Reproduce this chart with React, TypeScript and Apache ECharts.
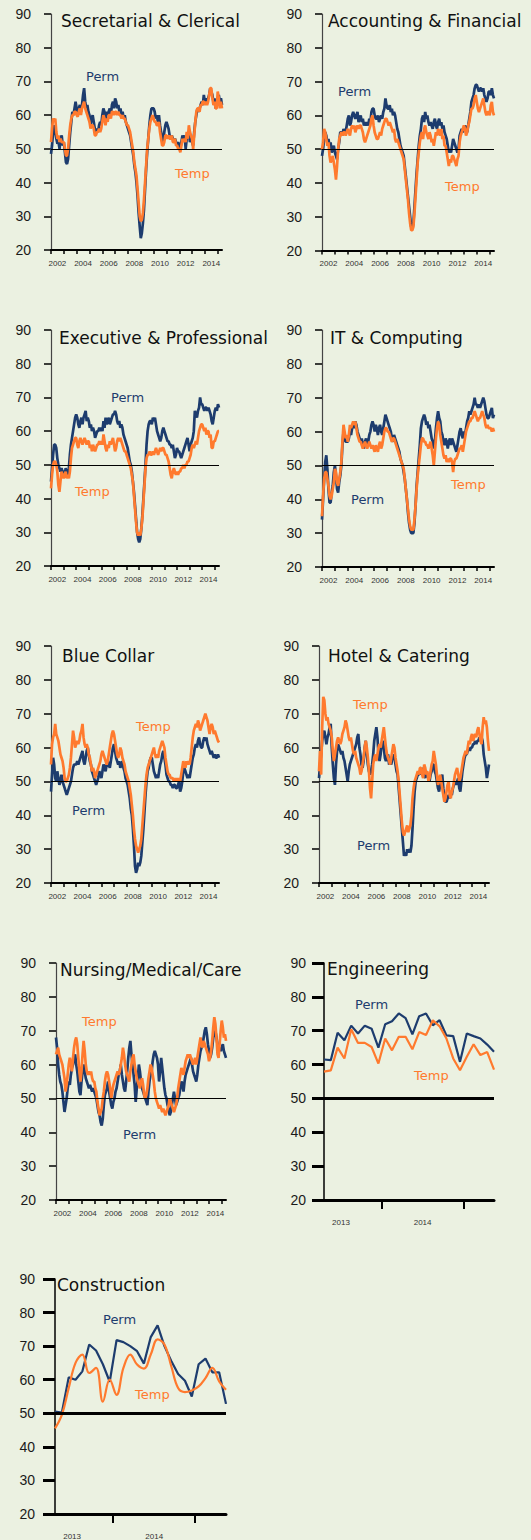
import React, { useEffect, useRef } from "react";
import * as echarts from "echarts";

const BG = "#EBF1E1";
const PERM_COLOR = "#1D3C6E";
const TEMP_COLOR = "#FF7A2E";

// Monthly index values, Jan 2002 - May 2015
const secPerm = [
  48.5, 51, 55, 57, 55, 53, 51.5, 52, 50, 53, 54, 51,
  52, 49, 46, 45.5, 47, 51, 55, 58, 61, 60, 62, 64,
  62, 60, 62, 63, 61, 63, 66, 68, 64, 62, 63, 61,
  60, 57, 59, 60, 58, 56, 55, 56, 55, 57, 58, 57,
  60, 62, 61, 58, 61, 60, 61, 62, 60, 63, 64, 62,
  65, 64, 62, 63, 61, 62, 60, 61, 59, 60, 58, 57,
  56, 55, 54, 52, 50, 48, 45, 43, 40, 36, 31, 27,
  23.5, 25, 28, 32, 38, 44, 49, 53, 57, 60, 62, 62,
  62, 61, 59, 60, 58, 60, 57, 55, 53, 52, 55, 57,
  58, 57, 56, 54, 53, 54, 53, 52, 53, 52, 51, 52,
  51, 50, 52, 54, 53, 54, 50, 53, 54, 55, 52, 53,
  52, 51, 55, 58, 60, 62, 61, 62, 63, 64, 63, 66,
  64, 65, 64, 65, 66, 68, 67, 66, 64, 65, 62, 63,
  65, 66, 64, 65, 63,
];
const secTemp = [
  52, 56, 59, 58, 59, 55, 53, 54, 52, 53, 52, 52,
  52, 50, 48, 48, 50, 54, 57, 59, 60, 60, 61, 61,
  60, 59.5, 61, 62, 60, 62, 63, 64, 62, 61, 60, 59,
  58, 56, 57, 57, 56, 54, 54, 55, 55, 56, 55, 56,
  58, 60, 59, 57, 59, 58, 60, 60, 59, 61, 61, 60,
  61, 61, 60, 61, 60, 60, 59, 60, 59, 59, 58, 57,
  57, 56, 55, 53, 51, 49, 46, 44, 42, 38, 34, 30,
  28.5, 29, 31, 35, 40, 45, 50, 53, 56, 58, 59, 60,
  59, 58, 58, 57, 57, 58, 55, 53, 51, 51, 52, 54,
  54, 53, 54, 53, 53, 54, 52, 52, 53, 51, 51, 50,
  50, 49, 51, 53, 52, 53, 52, 55, 53, 57, 55, 54,
  53, 50, 54, 58, 61, 62, 62, 61, 63, 63, 64, 64,
  63, 64, 63, 64, 66, 68, 68, 65, 63, 64, 62, 62,
  67, 65, 62, 64, 62,
];
const accPerm = [
  48, 50, 53, 55, 54, 52, 53, 51, 52, 49, 50, 51,
  49, 48, 47, 50, 52, 55, 55, 54, 56, 55, 55, 57,
  59, 60, 57, 58, 60, 61, 60, 59, 60, 61, 58, 59,
  60, 58, 59, 57, 58, 57, 58, 57, 59, 58, 61, 62,
  62, 60, 59, 59, 60, 58, 59, 60, 59, 61, 62, 65,
  63, 62, 62, 63, 61, 62, 60, 61, 60, 58, 56, 55,
  53, 51, 50, 49, 48, 45, 42, 39, 36, 33, 30, 27,
  26.5, 28, 33, 38, 43, 47, 51, 54, 56, 59, 60, 58,
  61, 59, 60, 58, 57, 58, 57, 56, 58, 59, 57, 56,
  58, 59, 57, 58, 56, 57, 55, 54, 53, 51, 49, 50,
  49, 51, 53, 52, 51, 50, 49, 50, 54, 55, 56, 55,
  56, 57, 56, 55, 57, 59, 61, 64, 65, 66, 68, 69,
  69, 68, 67, 68, 68, 67, 68, 66, 65, 64, 65, 67,
  67, 66, 68, 66, 65,
];
const accTemp = [
  50, 52, 56, 55, 53, 51, 52, 48, 46, 47, 48, 46,
  44, 41, 45, 50, 53, 54, 55, 54, 55, 55, 54, 55,
  56, 55, 54, 56, 57, 56, 57, 55, 56, 57, 56, 57,
  57, 56, 55, 53, 52, 53, 54, 55, 56, 57, 59, 60,
  57, 55, 54, 53, 53, 54, 55, 54, 56, 57, 58, 59,
  59, 58, 57, 58, 57, 56, 55, 56, 53, 52, 53, 52,
  51, 50, 49, 48, 47, 44, 41, 38, 35, 31, 28, 26,
  26, 27, 31, 36, 41, 46, 49, 52, 54, 55, 53, 56,
  57, 55, 54, 53, 55, 54, 52, 53, 51, 53, 55, 54,
  56, 55, 54, 56, 53, 54, 51, 51, 49, 47, 45, 47,
  46, 48, 48, 47, 46, 45, 47, 48, 52, 54, 55, 56,
  57, 56, 54, 55, 57, 58, 60, 62, 62, 63, 65, 66,
  64, 62, 61, 62, 63, 64, 65, 63, 61, 60, 61, 61,
  60, 63, 64, 61, 60,
];
const exePerm = [
  45, 49, 53, 56, 56, 55, 52, 50, 49, 48, 49, 48,
  48, 47, 49, 48, 47, 49, 53, 56, 58, 60, 62, 64,
  65, 64, 62, 61, 63, 64, 62, 64, 65, 66, 63, 64,
  63, 61, 62, 60, 61, 60, 58, 59, 60, 60, 61, 60,
  61, 60, 63, 61, 64, 62, 63, 64, 62, 63, 64, 65,
  65, 66, 65, 63, 62, 63, 61, 62, 61, 59, 58, 57,
  56, 55, 53, 51, 50, 48, 45, 42, 38, 34, 30, 28,
  27, 28, 31, 35, 40, 45, 50, 56, 60, 62, 63, 63,
  62, 64, 63, 64, 62, 60, 59, 58, 57, 58, 60, 61,
  60, 59, 58, 57, 57, 56, 56, 55, 56, 54, 52, 53,
  55, 54, 54, 53, 52, 53, 54, 55, 56, 57, 58, 56,
  54, 56, 57, 58, 60, 66, 65, 64, 66, 67, 70, 68,
  68, 67, 66, 67, 67, 66, 67, 66, 65, 63, 62, 64,
  66, 67, 66, 68, 67,
];
const exeTemp = [
  43, 47, 50, 51, 51, 50, 48, 44, 42, 45, 48, 47,
  46, 47, 48, 46, 47, 46, 48, 52, 55, 56, 57, 58,
  58, 56, 55, 57, 58, 57, 56, 57, 58, 57, 56, 57,
  57, 55, 56, 54, 56, 55, 54, 55, 56, 56, 57, 56,
  57, 56, 59, 57, 55, 54, 56, 55, 57, 56, 57, 58,
  56, 54, 55, 57, 58, 57, 58, 57, 56, 55, 54, 54,
  53, 52, 51, 50, 49, 47, 45, 41, 37, 33, 30, 29,
  30, 29, 31, 34, 39, 44, 49, 52, 53, 53, 54, 53,
  53, 54, 53, 54, 55, 54, 53, 54, 55, 54, 55, 55,
  54, 53, 53, 52, 51, 49, 47, 46, 48, 49, 48, 47,
  48, 47, 48, 48, 49, 49, 50, 49, 50, 50, 51, 51,
  52, 53, 55, 56, 55, 56, 57, 56, 58, 60, 61, 62,
  62, 61, 60, 61, 59, 60, 60, 58, 59, 55, 55, 57,
  57, 58, 59, 60, 60,
];
const itPerm = [
  34, 40, 46, 51, 53, 49, 43, 39, 39, 42, 44, 48,
  50, 47, 43, 42, 45, 47, 50, 56, 60, 58, 57, 57,
  57, 58, 60, 59, 61, 62, 61, 63, 62, 60, 59, 58,
  57, 58, 56, 55, 57, 58, 56, 57, 59, 60, 62, 63,
  62, 60, 62, 61, 59, 61, 62, 60, 59, 61, 63, 65,
  64, 63, 62, 61, 60, 58, 57, 59, 58, 57, 56, 55,
  54, 52, 51, 50, 48, 46, 43, 40, 36, 33, 31, 30,
  30, 30, 33, 38, 44, 48, 52, 56, 61, 63, 64, 65,
  64, 62, 63, 61, 62, 60, 58, 57, 55, 57, 61, 64,
  66, 64, 63, 60, 59, 57, 56, 58, 57, 55, 57, 58,
  56, 58, 57, 56, 55, 54, 56, 58, 60, 61, 59, 58,
  60, 59, 61, 63, 64, 66, 65, 66, 67, 68, 70, 68,
  68, 67, 68, 67, 68, 69, 70, 69, 67, 65, 64, 64,
  65, 66, 67, 64, 65,
];
const itTemp = [
  35, 41, 46, 48, 48, 46, 44, 41, 40, 41, 43, 45,
  49, 48, 45, 44, 46, 48, 51, 57, 62, 60, 58, 59,
  57, 59, 62, 61, 62, 63, 62, 63, 61, 59, 58, 57,
  57, 56, 55, 56, 57, 56, 55, 56, 57, 56, 55, 56,
  55, 54, 56, 55, 54, 56, 57, 55, 56, 58, 60, 61,
  61, 60, 60, 59, 58, 57, 58, 58, 57, 56, 55, 54,
  53, 52, 51, 50, 49, 46, 43, 40, 37, 34, 32, 31,
  31, 31, 34, 38, 43, 47, 50, 53, 56, 58, 58, 57,
  57, 56, 56, 55, 56, 57, 55, 53, 50, 54, 58, 61,
  63, 62, 59, 57, 55, 53, 52, 53, 51, 52, 51, 52,
  52, 51, 48, 51, 52, 52, 53, 54, 55, 55, 56, 54,
  56, 58, 60, 61, 62, 63, 63, 64, 64, 65, 66, 65,
  64, 63, 64, 64, 65, 66, 65, 64, 62, 61, 62, 61,
  61, 61, 60, 61, 60,
];
const bluPerm = [
  47, 52, 57, 55, 51, 50, 53, 51, 49, 50, 52, 50,
  49, 48, 47, 46, 47, 48, 49, 50, 52, 54, 55, 55,
  55, 56, 55, 56, 57, 58, 59, 56, 55, 57, 59, 60,
  58, 56, 55, 53, 52, 51, 50, 49, 50, 51, 53, 52,
  51, 53, 55, 54, 53, 55, 56, 55, 54, 56, 58, 60,
  61, 59, 57, 56, 55, 56, 54, 55, 56, 54, 53, 51,
  50, 49, 47, 45, 42, 40, 36, 31, 25, 23, 24, 26,
  25, 26, 28, 32, 36, 41, 46, 50, 53, 54, 56, 57,
  57, 55, 53, 52, 51, 52, 51, 53, 55, 56, 58, 59,
  57, 55, 52, 51, 50, 50, 49, 49, 48, 49, 49, 48,
  48, 49, 50, 47, 48, 50, 53, 54, 53, 52, 51, 52,
  51, 53, 55, 57, 58, 60, 61, 60, 62, 63, 61, 60,
  60, 62, 63, 62, 63, 61, 60, 59, 58, 59, 58, 57,
  58, 57, 57, 58, 57,
];
const bluTemp = [
  55, 61, 63, 64, 67, 64, 63, 62, 60, 58, 57, 56,
  54, 51, 50, 50, 51, 52, 54, 57, 61, 65, 63, 60,
  61, 62, 61, 62, 64, 65, 67, 63, 61, 60, 61, 60,
  58, 57, 55, 53, 54, 53, 51, 52, 53, 54, 55, 56,
  58, 59, 58, 57, 56, 55, 56, 58, 60, 62, 64, 65,
  64, 62, 60, 58, 57, 58, 60, 59, 57, 56, 55, 53,
  52, 51, 50, 48, 46, 43, 40, 36, 33, 31, 30, 29,
  30, 31, 33, 37, 41, 45, 49, 52, 54, 55, 56, 57,
  58, 59, 60, 58, 57, 58, 57, 59, 60, 61, 62, 61,
  60, 57, 55, 53, 52, 52, 51, 51, 51, 50, 51, 50,
  51, 50, 51, 50, 52, 54, 56, 55, 54, 56, 55, 56,
  55, 57, 60, 63, 65, 66, 67, 66, 68, 67, 65, 66,
  67, 68, 69, 70, 69, 68, 66, 64, 66, 67, 66, 64,
  65, 64, 63, 62, 61.5,
];
const hotPerm = [
  51, 55, 58, 62, 64, 65, 63, 61, 63, 64, 66, 67,
  60, 55, 51, 49, 55, 59, 61, 60, 59, 58, 59, 57,
  56, 54, 52, 50, 53, 55, 56, 57, 58, 59, 60, 61,
  63, 64, 60, 58, 55, 54, 56, 60, 62, 58, 55, 53,
  52, 53, 55, 58, 62, 64, 66, 63, 58, 56, 58, 61,
  62, 60, 57, 56, 57, 58, 55, 56, 55, 57, 58, 57,
  55, 53, 52, 48, 44, 40, 36, 32, 28, 29, 28, 30,
  29, 30, 29, 31, 36, 42, 47, 50, 51, 52, 52, 53,
  52, 53, 54, 52, 51, 53, 52, 51, 50, 52, 53, 55,
  55, 53, 52, 50, 48, 47, 49, 51, 52, 48, 45, 44,
  44, 45, 46, 45, 47, 46, 48, 49, 50, 49, 50, 51,
  48, 47, 50, 53, 55, 57, 58, 58, 59, 60, 59, 60,
  60, 61, 61, 62, 61, 62, 62, 63, 62, 63, 62, 58,
  56, 54, 51, 53, 55,
];
const hotTemp = [
  53, 59, 52, 66, 75, 74, 70, 68, 69, 67, 66, 65,
  63, 59, 56, 58, 60, 62, 63, 62, 61, 62, 64, 65,
  66, 68, 67, 65, 63, 62, 63, 61, 59, 58, 59, 57,
  56, 55, 54, 52, 53, 55, 57, 60, 62, 60, 57, 53,
  48, 45, 50, 55, 57, 58, 56, 58, 60, 61, 60, 62,
  64, 66, 63, 60, 58, 57, 56, 55, 57, 59, 61, 60,
  57, 55, 53, 50, 46, 42, 38, 35, 34, 35, 36, 37,
  35, 36, 37, 40, 45, 48, 50, 51, 52, 53, 52, 54,
  54, 52, 51, 55, 54, 52, 53, 50, 51, 53, 55, 56,
  59, 57, 55, 52, 49, 50, 52, 50, 48, 46, 44, 45,
  47, 49, 50, 46, 45, 47, 48, 50, 52, 53, 54, 52,
  50, 51, 53, 55, 57, 58, 59, 58, 60, 62, 61, 63,
  64, 62, 63, 64, 63, 65, 66, 64, 62, 61, 66, 69,
  67, 68, 66, 62, 59,
];
const nurPerm = [
  68, 65, 60, 57, 55, 54, 52, 49, 46, 48, 50, 53,
  55, 54, 57, 59, 60, 62, 63, 60, 58, 55, 52, 51,
  55, 58, 60, 58, 56, 55, 54, 53, 54, 53, 52, 53,
  52, 51, 50, 48, 46, 45, 43, 42, 44, 48, 51, 52,
  53, 55, 52, 50, 48, 47, 49, 50, 52, 53, 55, 57,
  58, 60, 57, 55, 53, 52, 55, 58, 62, 65, 67, 63,
  60, 57, 54, 49, 53, 56, 60, 58, 55, 53, 52, 51,
  50, 49, 48, 52, 55, 57, 58, 61, 63, 64, 63, 62,
  60, 55, 58, 62, 59, 56, 53, 51, 50, 48, 47, 45,
  46, 48, 50, 52, 50, 48, 49, 50, 51, 53, 55, 54,
  52, 55, 57, 58, 59, 60, 61, 62, 60, 58, 57, 56,
  55, 57, 60, 62, 64, 65, 66, 68, 70, 71, 69, 66,
  64, 62, 63, 65, 68, 69, 70, 68, 66, 64, 65, 64,
  65, 66, 64, 63, 62,
];
const nurTemp = [
  63, 64, 65, 63, 62, 61, 60, 58, 56, 52, 54, 57,
  60, 62, 60, 58, 62, 65, 67, 68, 66, 62, 58, 55,
  58, 63, 67, 64, 60, 58, 57, 58, 57, 58, 56, 55,
  55, 53, 52, 49, 47, 45, 46, 47, 50, 52, 55, 57,
  58, 57, 55, 53, 50, 52, 54, 55, 56, 57, 58, 57,
  58, 60, 62, 65, 63, 60, 58, 57, 56, 55, 58, 60,
  62, 63, 60, 58, 56, 55, 54, 53, 55, 56, 54, 51,
  50, 51, 53, 56, 58, 60, 59, 57, 55, 52, 50, 49,
  48, 47, 48, 47, 46, 47, 46, 45, 46, 47, 48, 50,
  49, 48, 47, 46, 47, 48, 50, 53, 55, 57, 59, 58,
  57, 59, 61, 62, 63, 62, 63, 62, 61, 60, 61, 62,
  60, 62, 64, 66, 68, 66, 65, 67, 66, 65, 64, 63,
  61, 62, 64, 67, 71, 74, 72, 68, 63, 62, 66, 70,
  73, 71, 68, 69, 67,
];

// Monthly, Apr 2013 - May 2015
const engPerm = [61.5, 61.3, 69.4, 67.2, 71.5, 69.2, 71.5, 70.6, 65, 71.9, 72.8, 75.1, 73.7, 68.9, 74.3, 75.1, 71.6, 73.1, 68.6, 68.4, 60.8, 69.2, 68.4, 67.7, 65.9, 63.8];
const engTemp = [57.9, 58.3, 65, 61.8, 70.4, 66.4, 66.4, 65.2, 60.3, 67.7, 64.2, 68.2, 68.2, 64.5, 69.6, 68.7, 73.1, 71.3, 67.7, 61.8, 58.3, 62.3, 66, 62.8, 63.7, 58.5];
const conPerm = [50.5, 50.2, 60.7, 60, 62.5, 70.5, 68.7, 64.6, 59.4, 71.8, 71.2, 70, 68.5, 64.8, 72.7, 76.2, 70, 65.6, 61.7, 59.7, 55, 64.6, 66.3, 62.2, 62.2, 52.8];
const conTemp = [45.5, 49.5, 57.5, 65, 67.5, 62, 63.5, 53.5, 60, 55.5, 63.5, 67.5, 64.5, 63.3, 67.5, 72, 70.5, 64, 57.5, 56.3, 56.8, 58, 60.5, 63.5, 59.5, 57];

// Axis ticks / labels
const longYearTicks = [0, 12, 24, 36, 48, 60, 72, 84, 96, 108, 120, 132, 144, 156];
const longYearLabelPos = [6, 30, 54, 78, 102, 126, 150];
const longYearLabels = ["2002", "2004", "2006", "2008", "2010", "2012", "2014"];
const shortYearTicks = [8.5, 20.5];
const shortYearLabelPos = [2.5, 14.5];
const shortYearLabels = ["2013", "2014"];
const yTicks = { min: 20, max: 90, interval: 10 };

type Panel = {
  title: string;
  perm: number[];
  temp: number[];
  grid: number[];
  short: boolean;
  smoothTemp?: boolean;
  titleAt: number[];
  permAt: number[];
  tempAt: number[];
  yLabelMargin: number;
};

const panels: Panel[] = [
  { title: "Secretarial & Clerical", perm: secPerm, temp: secTemp, grid: [51, 14, 171, 236], short: false, titleAt: [61, 21], permAt: [86, 76], tempAt: [175, 173], yLabelMargin: 20 },
  { title: "Accounting & Financial", perm: accPerm, temp: accTemp, grid: [322, 14, 172, 236.5], short: false, titleAt: [328, 21], permAt: [338, 91], tempAt: [445, 186], yLabelMargin: 20 },
  { title: "Executive & Professional", perm: exePerm, temp: exeTemp, grid: [51, 330, 168, 236], short: false, titleAt: [59, 337.5], permAt: [111, 397], tempAt: [75, 491], yLabelMargin: 20 },
  { title: "IT & Computing", perm: itPerm, temp: itTemp, grid: [322, 330, 172, 237], short: false, titleAt: [330, 337.5], permAt: [351, 499], tempAt: [451, 484], yLabelMargin: 20 },
  { title: "Blue Collar", perm: bluPerm, temp: bluTemp, grid: [51, 646, 168, 237], short: false, titleAt: [62, 656], permAt: [72, 810], tempAt: [136, 726], yLabelMargin: 20 },
  { title: "Hotel & Catering", perm: hotPerm, temp: hotTemp, grid: [319, 646, 170, 237], short: false, titleAt: [328, 656], permAt: [357, 845], tempAt: [353, 704], yLabelMargin: 20 },
  { title: "Nursing/Medical/Care", perm: nurPerm, temp: nurTemp, grid: [56, 963, 170, 237], short: false, titleAt: [60, 970], permAt: [123, 1134], tempAt: [82, 1021], yLabelMargin: 20 },
  { title: "Engineering", perm: engPerm, temp: engTemp, grid: [324, 963, 170, 237], short: true, titleAt: [327, 969], permAt: [355, 1004], tempAt: [414, 1075], yLabelMargin: 18 },
  { title: "Construction", perm: conPerm, temp: conTemp, grid: [55, 1279, 171, 238], short: true, smoothTemp: true, titleAt: [57, 1285], permAt: [103, 1319], tempAt: [135, 1394], yLabelMargin: 20 },
];

function textEl(text: string, x: number, y: number, size: number, color: string, spacing: number) {
  return {
    type: "text",
    x,
    y,
    silent: true,
    style: {
      text,
      fill: color,
      fontSize: size,
      fontFamily: "DejaVu Sans",
      align: "left",
      verticalAlign: "middle",
      textAlign: "left",
      textVerticalAlign: "middle",
      letterSpacing: spacing,
    },
  };
}

function buildOption() {
  const grid = panels.map((p) => ({
    left: p.grid[0],
    top: p.grid[1],
    width: p.grid[2],
    height: p.grid[3],
    containLabel: false,
  }));

  const xAxis = panels.map((p, i) => ({
    gridIndex: i,
    type: "value",
    min: 0,
    max: p.perm.length - 1,
    splitLine: { show: false },
    axisLine: { show: true, onZero: false, lineStyle: { color: "#000", width: p.short ? 3 : 2 } },
    axisTick: {
      show: true,
      customValues: p.short ? shortYearTicks : longYearTicks,
      length: p.short ? 9 : 4,
      lineStyle: { color: "#000", width: p.short ? 2 : 1.5 },
    },
    axisLabel: {
      show: true,
      customValues: p.short ? shortYearLabelPos : longYearLabelPos,
      formatter: (v: number) => {
        if (p.short) {
          const k = shortYearLabelPos.indexOf(v);
          return k >= 0 ? shortYearLabels[k] : "";
        }
        const k = longYearLabelPos.indexOf(v);
        return k >= 0 ? longYearLabels[k] : "";
      },
      fontSize: 8,
      fontFamily: "Liberation Sans",
      color: "#333",
      margin: p.short ? 18 : 9,
    },
  }));

  const yAxis = panels.map((p, i) => ({
    gridIndex: i,
    type: "value",
    min: yTicks.min,
    max: yTicks.max,
    interval: yTicks.interval,
    splitLine: { show: false },
    axisLine: { show: true, onZero: false, lineStyle: { color: p.short ? "#000" : "#444", width: p.short ? 1.5 : 1.2 } },
    axisTick: { show: true, length: p.short ? 12 : 7, lineStyle: { color: "#000", width: p.short ? 3 : 1.5 } },
    axisLabel: {
      show: true,
      showMinLabel: true,
      showMaxLabel: true,
      fontSize: 14,
      fontFamily: "Liberation Sans",
      color: "#1a1a1a",
      margin: p.yLabelMargin,
    },
  }));

  const series: any[] = [];
  panels.forEach((p, i) => {
    series.push({
      type: "line",
      name: p.title + " Perm",
      xAxisIndex: i,
      yAxisIndex: i,
      data: p.perm.map((v, k) => [k, v]),
      showSymbol: false,
      symbol: "none",
      lineStyle: { color: PERM_COLOR, width: p.short ? 2.2 : 2.7 },
      z: 2,
      markLine: {
        silent: true,
        symbol: "none",
        label: { show: false },
        lineStyle: { color: "#000", width: p.short ? 3 : 1, type: "solid" },
        data: [{ yAxis: 50 }],
      },
    });
    series.push({
      type: "line",
      name: p.title + " Temp",
      xAxisIndex: i,
      yAxisIndex: i,
      data: p.temp.map((v, k) => [k, v]),
      showSymbol: false,
      symbol: "none",
      smooth: p.smoothTemp ? 0.4 : false,
      lineStyle: { color: TEMP_COLOR, width: p.short ? 2.2 : 2.7 },
      z: 3,
    });
  });

  const graphic: any[] = [];
  panels.forEach((p) => {
    graphic.push(textEl(p.title, p.titleAt[0], p.titleAt[1], 17, "#111", 0));
    graphic.push(textEl("Perm", p.permAt[0], p.permAt[1], 13, PERM_COLOR, 0.5));
    graphic.push(textEl("Temp", p.tempAt[0], p.tempAt[1], 13, TEMP_COLOR, 0.5));
  });

  return {
    animation: false,
    backgroundColor: BG,
    grid,
    xAxis,
    yAxis,
    series,
    graphic,
  };
}

export default function App() {
  const ref = useRef<HTMLDivElement>(null);
  useEffect(() => {
    if (!ref.current) return;
    const chart = echarts.init(ref.current, null, { renderer: "svg" });
    chart.setOption(buildOption() as any);
    return () => {
      chart.dispose();
    };
  }, []);
  return (
    <div
      ref={ref}
      style={{ position: "absolute", left: 0, top: 0, width: 531, height: 1540, background: BG }}
    />
  );
}
